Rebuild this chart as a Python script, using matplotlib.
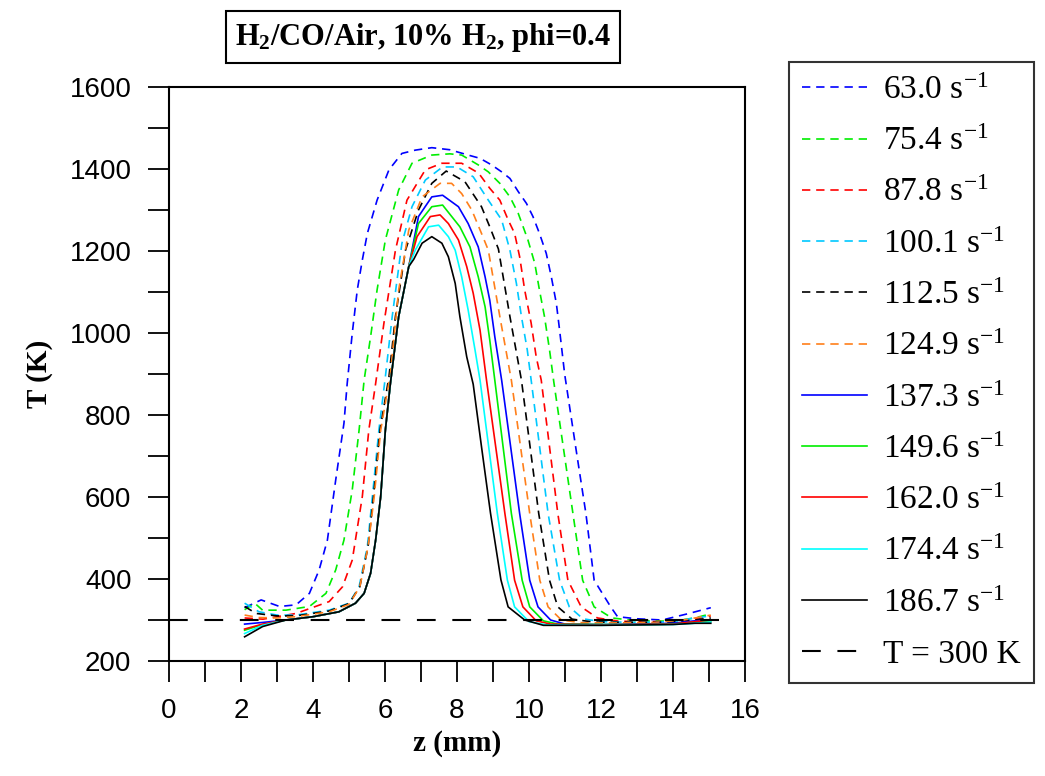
import matplotlib
matplotlib.use("Agg")
import matplotlib.pyplot as plt
from matplotlib.ticker import MultipleLocator

plt.rcParams["font.family"] = ["Liberation Sans", "DejaVu Sans"]
plt.rcParams["mathtext.fontset"] = "custom"
plt.rcParams["mathtext.rm"] = "Liberation Serif"
plt.rcParams["mathtext.it"] = "Liberation Serif:italic"
plt.rcParams["mathtext.bf"] = "Liberation Serif:bold"

# strain rates (s^-1) and curve styles
labels = ["63.0", "75.4", "87.8", "100.1", "112.5", "124.9",
          "137.3", "149.6", "162.0", "174.4", "186.7"]
colors = ["#0000ff", "#00ee00", "#ff0000", "#00c8ff", "#000000", "#ff7f1a",
          "#0000ff", "#00ee00", "#ff0000", "#00ffff", "#000000"]
dashed = [True] * 6 + [False] * 5

# temperature profiles: z (mm), T (K)
z_630 = [2.1, 2.56, 3.07, 3.53, 3.9, 4.17, 4.4, 4.63, 4.86, 4.95, 5.09, 5.23, 5.37, 5.51, 5.78,
         6.11, 6.47, 6.84, 7.3, 7.8, 8.31, 8.64, 8.96, 9.24, 9.47, 9.70, 9.93, 10.11, 10.29,
         10.48, 10.62, 10.76, 10.85, 10.99, 11.3, 11.58, 11.81, 12.27, 12.46, 13.0, 13.7, 14.4, 15.05]
T_630 = [330, 349, 333, 337, 365, 422, 495, 641, 780, 877, 999, 1105, 1178, 1243, 1324,
         1398, 1438, 1446, 1452, 1447, 1434, 1426, 1410, 1393, 1377, 1345, 1316, 1284, 1243,
         1194, 1137, 1072, 1007, 900, 720, 560, 397, 332, 308, 303, 300, 315, 330]

z_754 = [2.1, 2.38, 2.6, 3.25, 3.9, 4.36, 4.63, 4.86, 5.09, 5.28, 5.42, 5.6, 5.78, 6.01, 6.38,
         6.75, 7.3, 7.8, 8.13, 8.59, 8.87, 9.19, 9.47, 9.70, 9.97, 10.16, 10.29, 10.43, 10.57,
         10.69, 11.22, 11.49, 11.81, 12.3, 13.0, 14.0, 14.6, 15.05]
T_754 = [325, 341, 324, 324, 333, 365, 422, 495, 617, 763, 885, 991, 1105, 1227, 1349,
         1414, 1434, 1437, 1434, 1410, 1393, 1365, 1332, 1292, 1227, 1170, 1105, 1040, 959,
         880, 560, 397, 332, 305, 298, 297, 305, 315]

z_878 = [2.1, 2.61, 3.53, 4.45, 4.82, 5.09, 5.37, 5.55, 5.74, 5.97, 6.29, 6.61, 7.12, 7.58,
         8.13, 8.6, 8.91, 9.19, 9.42, 9.60, 9.74, 9.88, 10.06, 10.20, 10.34, 10.80, 11.08,
         11.45, 11.9, 12.5, 13.5, 14.5, 15.05]
T_878 = [305, 302, 316, 345, 381, 446, 601, 763, 877, 1024, 1202, 1324, 1398, 1414,
         1414, 1390, 1353, 1324, 1276, 1243, 1186, 1105, 1024, 942, 885, 560, 397,
         332, 305, 297, 296, 300, 310]

z_1001 = [2.1, 2.5, 3.0, 3.53, 4.45, 5.0, 5.28, 5.51, 5.65, 5.83, 6.01, 6.2, 6.47, 6.75, 7.12,
          7.6, 8.0, 8.45, 8.87, 9.24, 9.47, 9.65, 9.79, 9.95, 10.06, 10.53, 10.85, 11.12, 11.5,
          12.0, 13.0, 14.0, 14.6, 15.05]
T_1001 = [341, 320, 312, 312, 324, 341, 381, 479, 601, 763, 893, 1040, 1219, 1308, 1373,
          1405, 1405, 1381, 1324, 1276, 1202, 1121, 1040, 960, 885, 560, 397, 332, 303,
          296, 294, 296, 305, 310]

z_1125 = [2.1, 2.42, 3.0, 3.53, 4.45, 5.0, 5.3, 5.53, 5.68, 5.86, 6.11, 6.29, 6.57, 6.93, 7.3,
          7.7, 8.22, 8.68, 8.91, 9.15, 9.47, 9.79, 10.27, 10.57, 10.80, 11.2, 11.8, 13.0, 14.0,
          14.6, 15.05]
T_1125 = [333, 316, 310, 310, 322, 340, 381, 479, 601, 763, 893, 1040, 1202, 1300, 1365,
          1395, 1369, 1308, 1259, 1205, 1040, 885, 560, 397, 332, 302, 295, 294, 295,
          300, 305]

z_1249 = [2.1, 2.5, 3.0, 3.53, 4.45, 5.0, 5.3, 5.53, 5.7, 5.88, 6.15, 6.38, 6.66, 7.03, 7.53,
          7.85, 8.13, 8.41, 8.68, 8.87, 9.19, 9.51, 10.02, 10.30, 10.53, 10.9, 11.5, 12.5, 13.5,
          14.3, 15.05]
T_1249 = [312, 306, 305, 308, 320, 338, 381, 479, 601, 763, 900, 1105, 1251, 1332, 1365,
          1365, 1340, 1300, 1243, 1202, 1040, 885, 560, 397, 332, 300, 293, 293, 294,
          300, 312]

z_1373 = [2.1, 2.6, 3.25, 4.0, 4.72, 5.18, 5.42, 5.6, 5.74, 5.88, 6.01, 6.15, 6.38, 6.66, 6.93,
          7.3, 7.6, 8.04, 8.31, 8.59, 8.78, 8.91, 9.05, 9.24, 9.74, 10.02, 10.25, 10.6, 11.0,
          12.0, 13.0, 14.0, 14.6, 15.05]
T_1373 = [290, 294, 300, 308, 320, 341, 365, 414, 495, 601, 763, 877, 1040, 1162, 1284,
          1332, 1336, 1308, 1267, 1210, 1137, 1080, 991, 885, 560, 397, 332, 300, 290,
          289, 290, 292, 298, 300]

z_1496 = [2.1, 2.6, 3.25, 4.0, 4.72, 5.18, 5.42, 5.6, 5.74, 5.88, 6.01, 6.15, 6.38, 6.66, 6.93,
          7.3, 7.6, 8.08, 8.36, 8.59, 8.78, 8.91, 9.05, 9.51, 9.81, 10.02, 10.4, 10.8, 12.0,
          13.0, 14.0, 14.6, 15.05]
T_1496 = [275, 289, 300, 308, 320, 341, 365, 414, 495, 601, 763, 877, 1040, 1162, 1267,
          1308, 1312, 1259, 1210, 1137, 1064, 983, 885, 560, 397, 332, 298, 290, 289,
          289, 290, 295, 298]

z_1620 = [2.1, 2.6, 3.25, 4.0, 4.72, 5.18, 5.42, 5.6, 5.74, 5.88, 6.01, 6.15, 6.38, 6.66, 6.89,
          7.26, 7.53, 7.76, 8.04, 8.27, 8.45, 8.64, 8.82, 9.33, 9.60, 9.83, 10.2, 10.6, 12.0,
          13.0, 14.0, 14.6, 15.05]
T_1620 = [278, 290, 300, 308, 320, 341, 365, 414, 495, 601, 763, 877, 1040, 1162, 1235,
          1284, 1288, 1267, 1227, 1162, 1097, 1007, 885, 560, 397, 332, 298, 290, 288,
          289, 290, 296, 300]

z_1744 = [2.1, 2.6, 3.25, 4.0, 4.72, 5.18, 5.42, 5.6, 5.74, 5.88, 6.01, 6.15, 6.38, 6.66, 6.84,
          7.21, 7.49, 7.76, 7.95, 8.13, 8.31, 8.50, 8.64, 9.12, 9.40, 9.60, 10.0, 10.5, 12.0,
          13.0, 14.0, 14.6, 15.05]
T_1744 = [267, 287, 300, 308, 320, 341, 365, 414, 495, 601, 763, 877, 1040, 1162, 1202,
          1259, 1263, 1235, 1202, 1137, 1056, 959, 885, 560, 397, 332, 296, 288, 287,
          288, 289, 292, 295]

z_1867 = [2.1, 2.6, 3.25, 4.0, 4.72, 5.18, 5.42, 5.6, 5.74, 5.88, 6.01, 6.15, 6.38, 6.66, 6.8,
          7.03, 7.3, 7.58, 7.76, 7.95, 8.08, 8.27, 8.45, 8.68, 8.93, 9.22, 9.42, 9.88, 10.4,
          12.0, 13.0, 14.0, 14.6, 15.05]
T_1867 = [259, 284, 300, 308, 320, 341, 365, 414, 495, 601, 763, 877, 1040, 1162, 1180,
          1219, 1235, 1219, 1186, 1121, 1040, 942, 875, 723, 561, 398, 332, 300, 287,
          287, 288, 289, 292, 292]

z_all = [z_630, z_754, z_878, z_1001, z_1125, z_1249, z_1373, z_1496, z_1620, z_1744, z_1867]
T_all = [T_630, T_754, T_878, T_1001, T_1125, T_1249, T_1373, T_1496, T_1620, T_1744, T_1867]

T_ref = 300
z_ref = [0, 15.5]

W, H = 1045, 776
fig = plt.figure(figsize=(W / 100, H / 100), dpi=100)
ax = fig.add_axes([169 / W, 1 - 661 / H, (745 - 169) / W, (661 - 87) / H])

for z, T, lab, c, d in zip(z_all, T_all, labels, colors, dashed):
    ls = (0, (5, 3.5)) if d else "-"
    ax.plot(z, T, color=c, lw=1.2, ls=ls, label=lab + r" s$^{\mathrm{-1}}$")
ax.plot(z_ref, [T_ref, T_ref], color="black", lw=1.5, ls=(0, (9, 8)), label="T = 300 K")

ax.set_xlim(0, 16)
ax.set_ylim(200, 1600)
ax.xaxis.set_major_locator(MultipleLocator(2))
ax.xaxis.set_minor_locator(MultipleLocator(1))
ax.yaxis.set_major_locator(MultipleLocator(200))
ax.yaxis.set_minor_locator(MultipleLocator(100))
ax.tick_params(which="both", direction="out", length=15, width=1.3, top=False, right=False)
ax.tick_params(which="major", labelsize=20, pad=12, colors="black")
for s in ax.spines.values():
    s.set_linewidth(1.5)

ax.set_xlabel("z (mm)", family="Liberation Serif", weight="bold", fontsize=21, labelpad=4)
ax.set_ylabel("T (K)", family="Liberation Serif", weight="bold", fontsize=21, labelpad=12)

fig.text(423 / W, 1 - 37 / H, r"H$_\mathbf{2}$/CO/Air, 10% H$_\mathbf{2}$, phi=0.4",
         family="Liberation Serif", weight="bold", fontsize=22, ha="center", va="center",
         bbox=dict(boxstyle="square,pad=0.3", fc="white", ec="black", lw=1.5))

leg = ax.legend(loc="upper left", bbox_to_anchor=(789 / W, 1 - 62 / H),
                bbox_transform=fig.transFigure, frameon=True, fancybox=False,
                prop={"family": "Liberation Serif", "size": 24}, handlelength=1.95,
                handletextpad=0.48, labelspacing=0.62, borderpad=0.4, borderaxespad=0)
leg.get_frame().set_edgecolor("black")
leg.get_frame().set_linewidth(1.5)

fig.savefig("out.png", dpi=100)
